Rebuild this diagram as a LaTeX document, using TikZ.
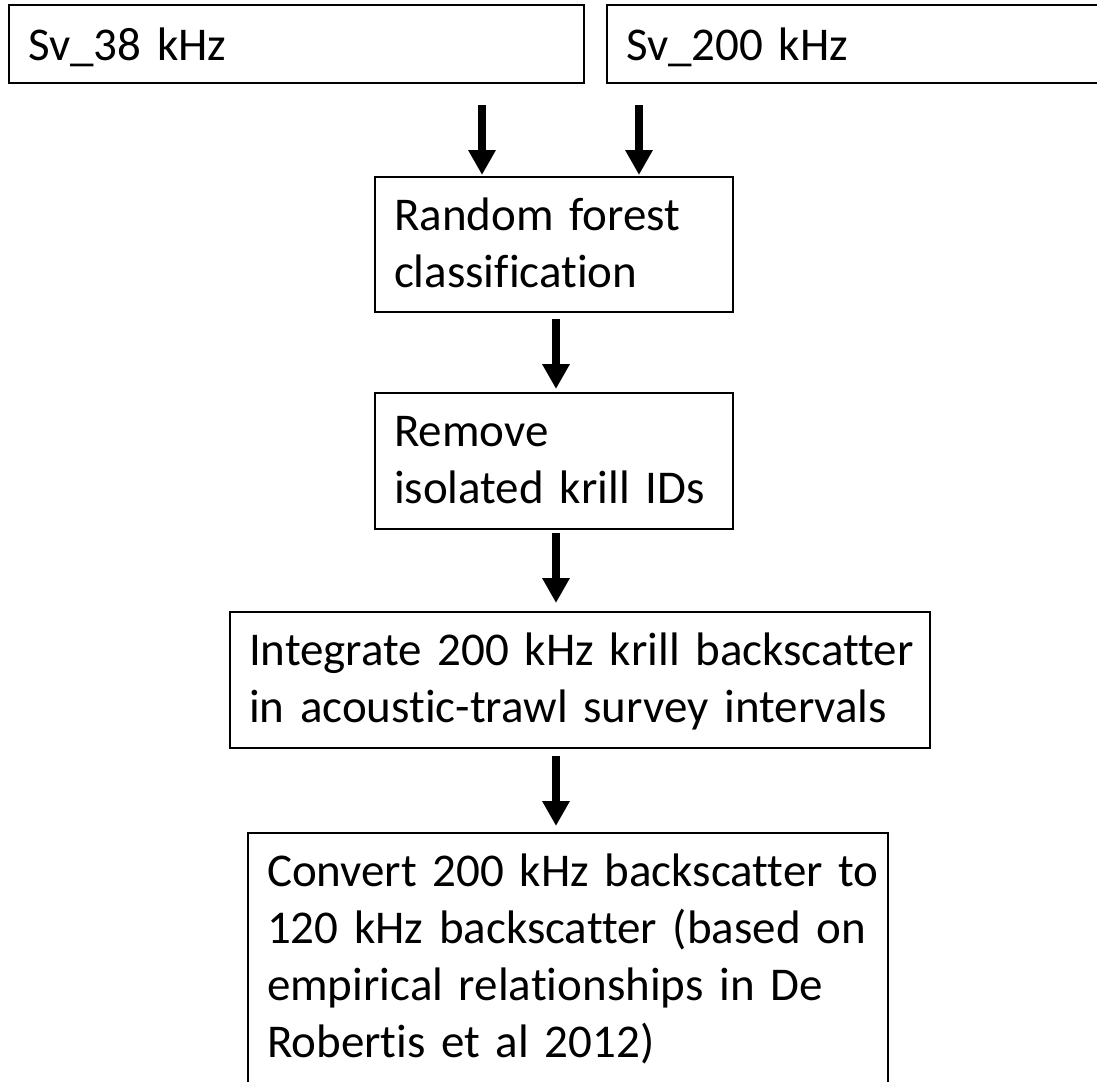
\documentclass[tikz,border=0pt]{standalone}
\usepackage{fontspec}
\setmainfont{Carlito}[Ligatures={NoCommon}]
\usetikzlibrary{arrows.meta}
\newcommand{\bxt}[3]{\rule{0pt}{#1}#3\rule[-#2]{0pt}{#2}}
\begin{document}
\begin{tikzpicture}[x=1pt,y=-1pt,
  box/.style={draw=black, line width=2.2pt, anchor=north west, inner xsep=19pt, inner ysep=0pt, outer sep=0pt, align=left, font=\fontsize{47pt}{57pt}\selectfont},
  topbox/.style={box, line width=2.6pt},
  arr/.style={line width=8pt, -{Triangle[width=26pt,length=25pt]}}]
\useasboundingbox (0,0) rectangle (1097,1081);
\node[topbox, text width=537pt] (s38) at (9,5) {\bxt{55pt}{23pt}{Sv\_38 kHz}};
\node[topbox, text width=537pt] (s200) at (607,5) {\bxt{55pt}{23pt}{Sv\_200 kHz}};
\node[box, text width=320pt] (rf) at (375,177) {\bxt{53pt}{25pt}{Random forest\\classification}};
\node[box, text width=320pt] (rm) at (375,393) {\bxt{53pt}{26pt}{Remove\\isolated krill IDs}};
\node[box, text width=662pt] (ig) at (230,612) {\bxt{53pt}{26pt}{\mbox{Integrate 200 kHz krill backscatter}\\\mbox{in acoustic-trawl survey intervals}}};
\node[box, text width=602pt] (cv) at (248,833) {\bxt{53pt}{45pt}{\mbox{Convert 200 kHz backscatter to}\\\mbox{120 kHz backscatter (based on}\\\mbox{empirical relationships in De}\\\mbox{Robertis et al 2012)}}};
\coordinate (xa) at (482,0);
\coordinate (xb) at (639,0);
\coordinate (xc) at (556,0);
\draw[arr, shorten <=22pt, shorten >=2pt] (s38.south -| xa) -- (rf.north -| xa);
\draw[arr, shorten <=22pt, shorten >=2pt] (s200.south -| xb) -- (rf.north -| xb);
\draw[arr, shorten <=7pt, shorten >=4pt] (rf.south -| xc) -- (rm.north -| xc);
\draw[arr, shorten <=4pt, shorten >=9pt] (rm.south -| xc) -- (ig.north -| xc);
\draw[arr, shorten <=8pt, shorten >=7pt] (ig.south -| xc) -- (cv.north -| xc);
\end{tikzpicture}
\end{document}
